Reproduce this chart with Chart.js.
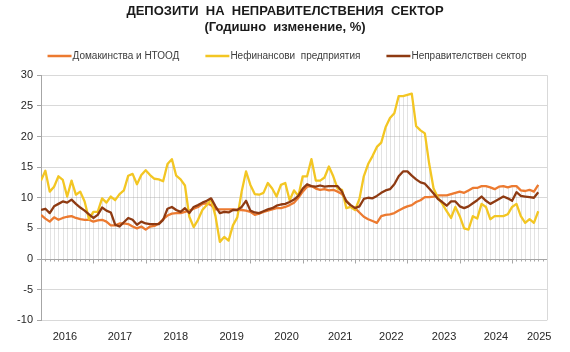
<!DOCTYPE html>
<html>
<head>
<meta charset="utf-8">
<script src="https://cdn.jsdelivr.net/npm/chart.js@4.4.1/dist/chart.umd.min.js"></script>
<style>
    body { margin: 0; background: #fff; }
    #wrap { width: 570px; height: 352px; position: relative; }
</style>
</head>
<body>
<div id="wrap"><canvas id="depositsChart"></canvas></div>
<script>
// --- Data (monthly, Jan 2016 - Jul 2025, annual change in %) ---
const years = ['2016', '2017', '2018', '2019', '2020', '2021', '2022', '2023', '2024', '2025'];
const seriesNames = ['Домакинства и НТООД', 'Нефинансови  предприятия', 'Неправителствен сектор'];

const households = [
    7.2, 6.6, 6.1, 6.8, 6.4, 6.7, 6.9, 7.0, 6.7, 6.5, 6.4, 6.4,
    6.1, 6.3, 6.4, 6.1, 5.5, 5.5, 5.8, 5.8, 5.7, 5.3, 5.0, 5.3,
    4.8, 5.3, 5.4, 5.8, 6.5, 7.1, 7.4, 7.5, 7.5, 7.7, 7.9, 8.2,
    8.5, 9.0, 9.1, 8.8, 8.1, 8.1, 8.1, 8.1, 8.1, 8.0, 8.0, 7.9,
    7.7, 7.2, 7.4, 7.7, 7.9, 8.1, 8.3, 8.3, 8.5, 8.8, 9.2, 10.0,
    11.0, 11.8, 11.9, 11.5, 11.3, 11.4, 11.2, 11.3, 11.0, 10.6, 9.5, 8.7,
    8.3, 7.6, 6.9, 6.5, 6.2, 5.9, 7.0, 7.2, 7.3, 7.5, 7.9, 8.3,
    8.6, 8.8, 9.3, 9.6, 10.1, 10.1, 10.2, 10.4, 10.4, 10.4, 10.6, 10.8,
    11.0, 10.8, 11.2, 11.6, 11.6, 11.9, 11.9, 11.7, 11.4, 11.8, 11.9, 11.7,
    11.9, 11.9, 11.2, 11.1, 11.3, 11.0, 12.1
];

const companies = [
    12.8, 14.4, 11.0, 11.8, 13.5, 12.9, 10.2, 12.8, 10.5, 11.0, 9.4, 6.5,
    7.7, 7.7, 9.9, 9.2, 10.2, 9.6, 10.6, 11.2, 13.6, 13.9, 12.2, 13.7,
    14.5, 13.7, 13.1, 13.0, 12.7, 15.5, 16.3, 13.6, 13.0, 12.0, 6.9, 5.2,
    6.4, 8.0, 8.8, 9.7, 7.0, 2.8, 3.6, 3.0, 5.5, 6.8, 11.0, 14.3,
    12.1, 10.6, 10.5, 10.8, 12.4, 11.5, 10.2, 12.1, 12.4, 9.6, 11.2, 10.3,
    13.5, 13.5, 16.3, 12.8, 12.8, 13.3, 15.1, 13.5, 11.5, 11.3, 8.3, 8.5,
    8.0, 9.8, 13.5, 15.5, 16.8, 18.3, 19.0, 21.5, 23.0, 23.8, 26.6, 26.6,
    26.8, 27.0, 21.7, 21.0, 20.5, 15.5, 11.5, 10.0, 9.0, 7.8, 6.7, 8.5,
    7.0, 5.0, 4.8, 7.0, 6.6, 9.0, 8.5, 6.5, 7.0, 7.0, 7.0, 7.3,
    8.5, 9.0, 7.0, 5.9, 6.5, 5.9, 7.8
];

const total = [
    8.0, 8.2, 7.5, 8.6, 9.0, 9.4, 9.2, 9.7, 9.0, 8.4, 7.9, 7.3,
    6.7, 7.2, 8.4, 7.9, 7.6, 5.6, 5.3, 6.0, 6.7, 6.4, 5.6, 6.1,
    5.8, 5.7, 5.7, 5.7, 6.4, 8.2, 8.5, 8.0, 7.7, 8.3, 7.5, 8.5,
    8.8, 9.2, 9.5, 9.9, 8.6, 7.5, 7.7, 7.6, 8.0, 8.0, 8.5, 9.5,
    7.9, 7.6, 7.5, 7.8, 8.1, 8.3, 8.7, 8.9, 9.0, 9.3, 9.7, 10.3,
    11.5, 12.2, 11.9, 11.8, 12.0, 11.8, 11.9, 11.9, 11.9, 11.0, 9.4, 8.8,
    8.3, 8.6, 9.8, 10.0, 9.9, 10.3, 10.8, 11.2, 11.4, 12.2, 13.5, 14.3,
    14.3, 13.6, 13.0, 12.5, 12.3, 11.5, 10.7, 9.8, 9.3, 8.7, 9.4, 9.4,
    8.6, 8.3, 8.6, 9.1, 9.6, 10.2, 9.5, 9.0, 9.4, 9.8, 10.2, 9.9,
    9.5, 10.9, 10.3, 10.2, 10.1, 10.0, 10.9
];

const yTicks = [-10, -5, 0, 5, 10, 15, 20, 25, 30];

// --- Helpers ---
const FONT = '"Liberation Sans", Arial, sans-serif';
const toPoints = arr => arr.map((v, i) => ({ x: i, y: v }));
// where the year captions sit on the month axis (as in the original, slightly uneven)
const yearLabelAt = [5.5, 18.1, 30.9, 43.7, 56.3, 68.6, 80.3, 92.4, 104.3, 114.2];

// drop lines, month ticks on the zero line, right border
const extras = {
    id: 'extras',
    beforeDatasetsDraw(chart) {
        const { ctx, chartArea: a, scales: { x, y } } = chart;
        const y0 = Math.round(y.getPixelForValue(0)) + 0.5;
        ctx.save();

        ctx.strokeStyle = 'rgba(165,165,165,0.6)';
        ctx.lineWidth = 1;
        ctx.setLineDash([1, 1]);
        for (let i = 0; i < total.length; i++) {
            const top = Math.max(households[i], companies[i], total[i]);
            const px = Math.round(x.getPixelForValue(i)) + 0.5;
            ctx.beginPath();
            ctx.moveTo(px, y0);
            ctx.lineTo(px, y.getPixelForValue(top));
            ctx.stroke();
        }
        ctx.setLineDash([]);

        ctx.strokeStyle = '#a6a6a6';
        for (let i = 0; i <= x.max; i++) {
            const px = Math.round(x.getPixelForValue(i)) + 0.5;
            ctx.beginPath();
            ctx.moveTo(px, y0);
            ctx.lineTo(px, y0 + (i % 12 === 0 ? 4 : 2));
            ctx.stroke();
        }

        ctx.strokeStyle = '#d9d9d9';
        ctx.beginPath();
        ctx.moveTo(Math.round(a.right) + 0.5, a.top);
        ctx.lineTo(Math.round(a.right) + 0.5, a.bottom);
        ctx.stroke();
        ctx.restore();
    }
};

// legend with line samples, drawn under the subtitle
const lineLegend = {
    id: 'lineLegend',
    afterDraw(chart) {
        const ctx = chart.ctx;
        const sets = chart.data.datasets;
        const lineW = 24, gap = 1, spacing = 26, yMid = 56;
        ctx.save();
        ctx.font = '10px ' + FONT;
        const widths = sets.map(d => ctx.measureText(d.label).width);
        const full = widths.reduce((s, w) => s + lineW + gap + w, 0) + spacing * (sets.length - 1);
        let x = (chart.width - full) / 2 + 2;
        ctx.textBaseline = 'middle';
        sets.forEach((d, i) => {
            ctx.strokeStyle = d.borderColor;
            ctx.lineWidth = 2.5;
            ctx.beginPath();
            ctx.moveTo(x, yMid);
            ctx.lineTo(x + lineW, yMid);
            ctx.stroke();
            x += lineW + gap;
            ctx.fillStyle = '#3c3c3c';
            ctx.fillText(d.label, x, yMid);
            x += widths[i] + spacing;
        });
        ctx.restore();
    }
};

document.addEventListener('DOMContentLoaded', function () {
    const canvas = document.getElementById('depositsChart');

    new Chart(canvas.getContext('2d'), {
        type: 'line',
        data: {
            datasets: [
                { label: seriesNames[0], data: toPoints(households), borderColor: '#ec7a30', order: 3 },
                { label: seriesNames[1], data: toPoints(companies), borderColor: '#f3c623', order: 2 },
                { label: seriesNames[2], data: toPoints(total), borderColor: '#8e3a12', order: 1 }
            ]
        },
        options: {
            responsive: true,
            maintainAspectRatio: false,
            animation: false,
            layout: { padding: 0 },
            elements: {
                line: { borderWidth: 2.3, tension: 0, borderJoinStyle: 'round' },
                point: { radius: 0, hoverRadius: 0 }
            },
            plugins: {
                legend: { display: false },
                tooltip: { enabled: false },
                title: {
                    display: true,
                    text: 'ДЕПОЗИТИ  НА  НЕПРАВИТЕЛСТВЕНИЯ  СЕКТОР',
                    color: '#1a1a1a',
                    font: { family: FONT, size: 13, weight: 'bold' },
                    padding: { top: 4, bottom: 0 }
                },
                subtitle: {
                    display: true,
                    text: '(Годишно  изменение, %)',
                    color: '#1a1a1a',
                    font: { family: FONT, size: 13, weight: 'bold' },
                    padding: { top: 0, bottom: 40 }
                }
            },
            scales: {
                x: {
                    type: 'linear',
                    min: 0,
                    max: 116,
                    border: { display: false },
                    grid: { display: false, drawTicks: false },
                    afterBuildTicks: (scale) => {
                        scale.ticks = yearLabelAt.map(v => ({ value: v }));
                    },
                    afterFit: (scale) => { scale.height = 31.7; },
                    ticks: {
                        autoSkip: false,
                        maxRotation: 0,
                        padding: 10,
                        color: '#262626',
                        font: { family: FONT, size: 11 },
                        callback: (value, index) => years[index]
                    }
                },
                y: {
                    min: -10,
                    max: 30,
                    afterBuildTicks: (scale) => { scale.ticks = yTicks.map(v => ({ value: v })); },
                    afterFit: (scale) => { scale.width = 41; },
                    border: { display: true, color: '#a6a6a6' },
                    grid: {
                        color: (c) => c.tick && c.tick.value === 0 ? '#a6a6a6' : '#d9d9d9',
                        tickColor: '#a6a6a6',
                        tickLength: 4
                    },
                    ticks: {
                        padding: 4,
                        color: '#262626',
                        font: { family: FONT, size: 11 }
                    }
                },
                // empty right-hand strip so the plot ends where the original does
                yRight: {
                    position: 'right',
                    min: -10,
                    max: 30,
                    border: { display: false },
                    grid: { display: false, drawTicks: false },
                    ticks: { display: false },
                    afterFit: (scale) => { scale.width = 23; }
                }
            }
        },
        plugins: [extras, lineLegend]
    });
});
</script>
</body>
</html>
